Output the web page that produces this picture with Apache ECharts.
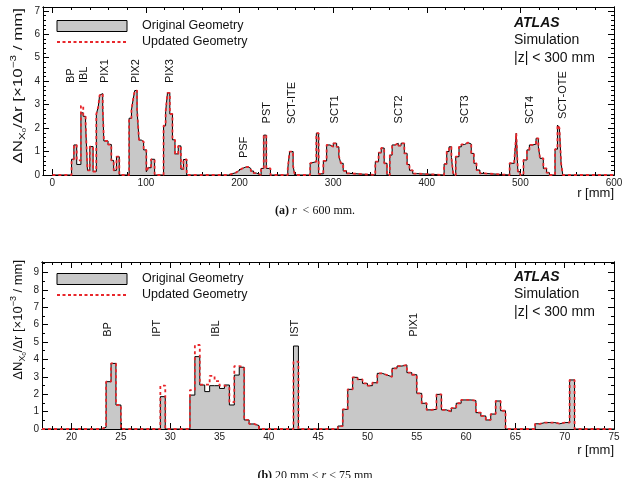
<!DOCTYPE html>
<html>
<head>
<meta charset="utf-8">
<script src="https://cdn.jsdelivr.net/npm/echarts@6/dist/echarts.min.js"></script>
<style>
  html, body { margin: 0; background: #fff; }
  #chart { width: 630px; height: 478px; }
</style>
</head>
<body>
<div id="chart"></div>
<script>
// (a) r < 600 mm: bin edges (mm) and the value from each edge to the next
const aEdges = [0, 20.5, 23, 26, 30.5, 33, 35.5, 37.5, 40, 43.5, 47, 49, 50.5, 52, 53.8, 55, 59.5, 63, 65.5, 68.5, 71.5,
  82, 84.5, 86.2, 88, 90.5, 92.6, 95, 97.5, 100.4, 102.5, 105.5, 109.2,
  118.8, 121, 123, 125.5, 128.3, 131, 134.5, 137.3, 140, 143.5,
  188, 192, 196, 199, 202, 206, 209, 212, 215, 218,
  223, 225.8, 228.6, 233,
  251.5, 253.5, 257.2, 259,
  275.4, 277, 282, 284.5, 289.5, 293, 296.6, 300.1, 303.7, 306.1, 308.2, 310.7, 314.2, 318,
  345, 348.5, 351.3, 354.5, 357.5, 360.5, 363, 366, 369.5, 372.5, 376, 379, 381.5, 385, 389,
  418.5, 421.3, 423.8, 426.3, 428.4, 430.9, 434.4, 436.9, 440.4, 444, 447.5, 450.3, 453.1, 456.7, 461,
  488.5, 493.5, 495.6, 497.3, 499.8, 503.3, 507, 509.6, 513.2, 516.7, 519.2, 521, 524.5, 528, 531,
  537, 539.6, 541.7, 543.5, 545.3, 600];
const aOriginal = [0, 0.67, 1.28, 0.45, 2.65, 2.5, 2.2, 0.2, 1.21, 0.15, 2.6, 2.9, 3.4, 3.47, 2.9, 1.45, 1.3, 0.62, 0.2, 0.78, 0,
  2.42, 2.77, 3.2, 3.6, 2.77, 1.49, 1.42, 1.07, 0.14, 0.31, 0.67, 0,
  2.1, 2.7, 3.5, 2.6, 1.5, 0.9, 1.24, 0.25, 0.66, 0,
  0.05, 0.1, 0.18, 0.26, 0.33, 0.35, 0.28, 0.17, 0.08, 0,
  0.28, 1.7, 0.28, 0,
  0.28, 1.0, 0.38, 0,
  0.5, 0.57, 1.78, 0.05, 0.6, 1.28, 1.2, 1.35, 1.2, 0.8, 0.5, 0.18, 0.07, 0,
  0.57, 0.95, 1.15, 0.5, 0, 0.85, 1.28, 1.35, 1.25, 1.35, 0.92, 0.45, 0.2, 0.06, 0,
  0.47, 1.0, 1.2, 0.75, 0, 0.78, 1.2, 1.3, 1.38, 1.32, 0.92, 0.5, 0.21, 0.07, 0,
  0.5, 0.6, 1.78, 0.14, 0, 0.64, 1.07, 1.28, 1.32, 1.56, 1.2, 0.71, 0.28, 0.1, 0,
  1.1, 2.13, 2.0, 0.5, 0, 0];
const aUpdated = [0, 0.67, 1.28, 0.62, 2.95, 2.5, 2.2, 0.2, 1.21, 0.15, 2.6, 2.9, 3.4, 3.47, 2.9, 1.45, 1.3, 0.62, 0.2, 0.78, 0,
  2.42, 2.77, 3.2, 3.6, 2.77, 1.49, 1.42, 1.07, 0.14, 0.31, 0.67, 0,
  2.1, 2.7, 3.5, 2.6, 1.5, 0.9, 1.24, 0.25, 0.66, 0,
  0.05, 0.1, 0.18, 0.26, 0.33, 0.35, 0.28, 0.17, 0.08, 0,
  0.28, 1.7, 0.28, 0,
  0.28, 1.0, 0.38, 0,
  0.5, 0.57, 1.78, 0.05, 0.6, 1.28, 1.2, 1.35, 1.2, 0.8, 0.5, 0.18, 0.07, 0,
  0.57, 0.95, 1.15, 0.5, 0, 0.85, 1.28, 1.35, 1.25, 1.35, 0.92, 0.45, 0.2, 0.06, 0,
  0.47, 1.0, 1.2, 0.75, 0, 0.78, 1.2, 1.3, 1.38, 1.32, 0.92, 0.5, 0.21, 0.07, 0,
  0.5, 0.6, 1.78, 0.14, 0, 0.64, 1.07, 1.28, 1.32, 1.56, 1.2, 0.71, 0.28, 0.1, 0,
  1.1, 2.13, 2.0, 0.5, 0, 0];

// (b) 20 mm < r < 75 mm
const bEdges = [17, 23, 23.5, 24, 24.5, 25, 29, 29.5, 32, 32.5, 33, 33.5, 34, 34.5, 35, 35.5, 36, 36.5, 37, 37.5, 38, 38.5, 39, 42.5, 43,
  47, 47.5, 48, 48.5, 49, 49.5, 50, 50.5, 51, 51.5, 52, 52.5, 53, 53.5, 54, 54.5, 55, 55.5, 56, 56.5, 57, 57.5,
  58, 58.5, 59, 59.5, 60, 60.5, 61, 61.5, 62, 62.5, 63, 63.5, 64,
  67, 67.5, 68, 68.5, 69, 69.5, 70, 70.5, 71, 75];
const bOriginal = [0, 0.1, 2.72, 3.77, 1.38, 0, 1.86, 0, 1.95, 4.16, 2.53, 2.15, 2.49, 2.49, 2.33, 2.53, 1.38, 3.1, 3.55, 0.52, 0.29, 0.2, 0, 4.77, 0,
  0.17, 1.13, 2.28, 2.97, 2.85, 2.62, 2.49, 2.66, 3.2, 3.1, 3.0, 3.49, 3.62, 3.68, 3.24, 3.12, 2.05, 1.48, 1.1, 1.13, 1.99, 1.1,
  1.0, 1.2, 1.48, 1.67, 1.67, 1.63, 0.94, 0.75, 0.52, 0.86, 1.61, 1.05, 0,
  0.3, 0.37, 0.37, 0.37, 0.3, 0.37, 0.37, 2.82, 0, 0];
const bUpdated = [0, 0.1, 2.72, 3.77, 1.38, 0, 2.49, 0, 2.24, 4.83, 2.55, 2.55, 3.05, 2.75, 2.5, 2.4, 1.55, 3.62, 3.55, 0.52, 0.29, 0.2, 0, 3.87, 0,
  0.17, 1.13, 2.28, 2.97, 2.85, 2.62, 2.49, 2.66, 3.2, 3.1, 3.0, 3.49, 3.62, 3.68, 3.24, 3.12, 2.05, 1.48, 1.1, 1.13, 1.99, 1.1,
  1.0, 1.2, 1.48, 1.67, 1.67, 1.63, 0.94, 0.75, 0.52, 0.86, 1.61, 1.05, 0,
  0.3, 0.37, 0.37, 0.37, 0.3, 0.37, 0.37, 2.82, 0, 0];

// tick labels
const aXTicks = [0, 100, 200, 300, 400, 500, 600];
const aYTicks = [0, 1, 2, 3, 4, 5, 6, 7];
const bXTicks = [20, 25, 30, 35, 40, 45, 50, 55, 60, 65, 70, 75];
const bYTicks = [0, 1, 2, 3, 4, 5, 6, 7, 8, 9];

// detector layer labels (r, height where the text starts)
const aLabels = ["BP", "IBL", "PIX1", "PIX2", "PIX3", "PSF", "PST", "SCT-ITE", "SCT1", "SCT2", "SCT3", "SCT4", "SCT-OTE"];
const aLabelR = [19.9, 34.2, 56.6, 89.7, 125.2, 205, 229.2, 256.5, 301.4, 370.8, 441, 510.3, 545.9];
const aLabelY = [3.92, 3.92, 3.92, 3.92, 3.92, 0.72, 2.2, 2.17, 2.2, 2.2, 2.2, 2.17, 2.39];
const bLabels = ["BP", "IPT", "IBL", "IST", "PIX1"];
const bLabelR = [23.68, 28.69, 34.67, 42.69, 54.69];
const bLabelY = [5.3, 5.3, 5.3, 5.3, 5.3];

const FONT = '"Liberation Sans", Arial, Helvetica, sans-serif';
const SERIF = '"Liberation Serif", "Times New Roman", serif';
const RED = "#e8262b";
const GREY = "#c8c8c8";

const range = (a, b, step) => {
  const out = [];
  for (let v = a; v <= b + 1e-9; v += step) out.push(+v.toFixed(3));
  return out;
};
const steps = (edges, vals) => edges.map((e, i) => [e, vals[i]]);

function xAxes(grid, min, max, majors, minors) {
  const base = {
    type: "value", gridIndex: grid, min, max,
    splitLine: { show: false },
    axisLine: { show: true, onZero: false, lineStyle: { color: "#000", width: 1 } },
  };
  const tick = (len, vals) => ({ show: true, inside: true, length: len, customValues: vals, lineStyle: { color: "#000", width: 1 } });
  return [
    { ...base, position: "bottom", axisTick: tick(6, majors),
      axisLabel: { customValues: majors, margin: 3, fontSize: 10, color: "#222", fontFamily: FONT } },
    { ...base, position: "bottom", axisTick: tick(3, minors), axisLabel: { show: false } },
    { ...base, position: "top", axisTick: tick(6, majors), axisLabel: { show: false } },
    { ...base, position: "top", axisTick: tick(3, minors), axisLabel: { show: false } },
  ];
}

function yAxes(grid, min, max, majors, minors) {
  const base = {
    type: "value", gridIndex: grid, min, max,
    splitLine: { show: false },
    axisLine: { show: true, onZero: false, lineStyle: { color: "#000", width: 1 } },
  };
  const tick = (len, vals) => ({ show: true, inside: true, length: len, customValues: vals, lineStyle: { color: "#000", width: 1 } });
  return [
    { ...base, position: "left", axisTick: tick(6, majors),
      axisLabel: { customValues: majors, margin: 3, fontSize: 10, color: "#222", fontFamily: FONT } },
    { ...base, position: "left", axisTick: tick(3, minors), axisLabel: { show: false } },
    { ...base, position: "right", axisTick: tick(6, majors), axisLabel: { show: false } },
    { ...base, position: "right", axisTick: tick(3, minors), axisLabel: { show: false } },
  ];
}

function histo(name, data, axis, updated) {
  return {
    name, type: "line", step: "end", symbol: "none", silent: true,
    xAxisIndex: axis, yAxisIndex: axis, data,
    z: updated ? 4 : 2,
    lineStyle: updated
      ? { color: RED, width: 1.8, type: [3, 3] }
      : { color: "#000", width: 1 },
    areaStyle: updated ? undefined : { color: GREY, opacity: 1 },
  };
}

const chart = echarts.init(document.getElementById("chart"), null, { renderer: "canvas" });

chart.setOption({
  animation: false,
  backgroundColor: "#fff",
  grid: [
    { left: 43, right: 16, top: 7, height: 168, outerBoundsMode: "none" },
    { left: 42, right: 16, top: 262, height: 167, outerBoundsMode: "none" },
  ],
  xAxis: [
    ...xAxes(0, -10, 600, aXTicks, range(0, 600, 20)),
    ...xAxes(1, 17, 75, bXTicks, range(17, 75, 1)),
  ],
  yAxis: [
    ...yAxes(0, 0, 7.16, aYTicks, range(0, 7, 0.2)),
    ...yAxes(1, 0, 9.6, bYTicks, range(0, 9.5, 0.5)),
  ],
  series: [
    histo("Original Geometry", steps(aEdges, aOriginal), 0, false),
    histo("Updated Geometry", steps(aEdges, aUpdated), 0, true),
    histo("Original Geometry", steps(bEdges, bOriginal), 4, false),
    histo("Updated Geometry", steps(bEdges, bUpdated), 4, true),
  ],
});

const text = (x, y, t, extra) => ({
  type: "text", x, y, silent: true,
  style: Object.assign({ text: t, fontFamily: FONT, fontSize: 13, fill: "#111", verticalAlign: "middle" }, extra),
});

const yTitleRich = {
  t: { fontSize: 13, fontFamily: FONT, lineHeight: 18, fill: "#111" },
  s: { fontSize: 9, fontFamily: FONT, lineHeight: 9, verticalAlign: "bottom", fill: "#111" },
  ss: { fontSize: 6, fontFamily: FONT, lineHeight: 5, verticalAlign: "bottom", fill: "#111" },
  p: { fontSize: 9, fontFamily: FONT, lineHeight: 9, verticalAlign: "top", fill: "#111" },
};
const yTitle = (x, y, scale) => ({
  type: "text", x, y, rotation: Math.PI / 2, scaleX: scale, silent: true,
  style: {
    text: "{t|ΔN}{s|X}{ss|0}{t|/Δr [×10}{p|−3}{t| / mm]}",
    rich: yTitleRich, align: "right", verticalAlign: "middle",
  },
});

function legend(top) {
  return [
    { type: "rect", silent: true, shape: { x: 57, y: top, width: 70, height: 11 },
      style: { fill: GREY, stroke: "#000", lineWidth: 1 } },
    text(142, top + 5.5, "Original Geometry", { fontSize: 12.5 }),
    { type: "line", silent: true, shape: { x1: 57, y1: top + 21.5, x2: 127, y2: top + 21.5 },
      style: { stroke: RED, lineWidth: 2, lineDash: [3, 2.5] } },
    text(142, top + 21.5, "Updated Geometry", { fontSize: 12.5 }),
  ];
}

function atlas(top) {
  return [
    text(514, top, "ATLAS", { fontSize: 14, fontWeight: "bold", fontStyle: "italic" }),
    text(514, top + 17.5, "Simulation", { fontSize: 14 }),
    text(514, top + 35, "|z| < 300 mm", { fontSize: 14 }),
  ];
}

function layerLabels(names, rs, ys, axis) {
  return names.map((n, i) => {
    const p = chart.convertToPixel({ xAxisIndex: axis, yAxisIndex: axis }, [rs[i], ys[i]]);
    return {
      type: "text", x: p[0], y: p[1], rotation: Math.PI / 2, silent: true,
      style: { text: n, fontFamily: FONT, fontSize: 11, fill: "#111", align: "left", verticalAlign: "middle" },
    };
  });
}

const captionRich = {
  b: { fontFamily: SERIF, fontSize: 12, fontWeight: "bold", fill: "#111" },
  i: { fontFamily: SERIF, fontSize: 12, fontStyle: "italic", fill: "#111" },
  n: { fontFamily: SERIF, fontSize: 12, fill: "#111" },
};

chart.setOption({
  graphic: [
    yTitle(18, 8, 1.3),
    yTitle(18, 260, 1),
    ...legend(20.5),
    ...legend(273.5),
    ...atlas(23),
    ...atlas(277),
    text(614, 193, "r [mm]", { align: "right" }),
    text(614, 450, "r [mm]", { align: "right" }),
    ...layerLabels(aLabels, aLabelR, aLabelY, 0),
    ...layerLabels(bLabels, bLabelR, bLabelY, 4),
    { type: "text", x: 315, y: 211, silent: true,
      style: { text: "{b|(a)}{n| }{i|r}{n|  < 600 mm.}", rich: captionRich, align: "center", verticalAlign: "middle" } },
    { type: "text", x: 315, y: 476, silent: true,
      style: { text: "{b|(b)}{n| 20 mm < }{i|r}{n| < 75 mm}", rich: captionRich, align: "center", verticalAlign: "middle" } },
  ],
});
</script>
</body>
</html>
